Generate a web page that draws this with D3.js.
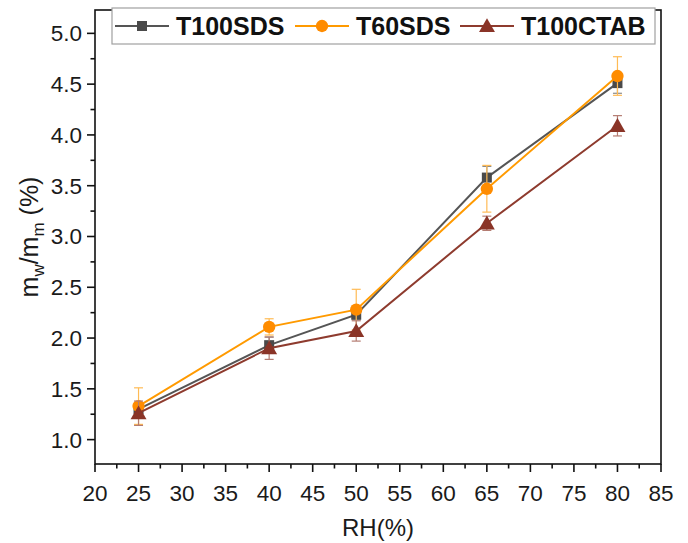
<!DOCTYPE html>
<html>
<head>
<meta charset="utf-8">
<script src="https://cdn.jsdelivr.net/npm/d3@7"></script>
<style>
  html, body { margin: 0; padding: 0; background: #fff; }
  svg { display: block; font-family: "Liberation Sans", Arial, sans-serif; }
</style>
</head>
<body>
<svg id="chart" width="688" height="543"></svg>
<script>
// Relative humidity levels (%)
const rh = [25, 40, 50, 65, 80];

// Moisture uptake m_w/m_m (%) and standard deviations per sample
const t100sds = [1.30, 1.93, 2.23, 3.58, 4.51];
const t100sdsErr = [0.05, 0.08, 0.05, 0.11, 0.10];
const t60sds = [1.33, 2.11, 2.28, 3.47, 4.58];
const t60sdsErr = [0.18, 0.08, 0.20, 0.23, 0.19];
const t100ctab = [1.26, 1.90, 2.07, 3.13, 4.09];
const t100ctabErr = [0.12, 0.11, 0.10, 0.07, 0.10];

const seriesNames = ["T100SDS", "T60SDS", "T100CTAB"];
const xTicks = [20, 25, 30, 35, 40, 45, 50, 55, 60, 65, 70, 75, 80, 85];
const yTicks = [1.0, 1.5, 2.0, 2.5, 3.0, 3.5, 4.0, 4.5, 5.0];

const series = [
  { name: seriesNames[0], values: t100sds, err: t100sdsErr, color: "#555555", marker: "#4a4a4a", errColor: "#8c8c8c", shape: d3.symbolSquare, size: 100 },
  { name: seriesNames[1], values: t60sds, err: t60sdsErr, color: "#ff9a00", marker: "#ff8c00", errColor: "#ffbb55", shape: d3.symbolCircle, size: 120 },
  { name: seriesNames[2], values: t100ctab, err: t100ctabErr, color: "#8e3b2e", marker: "#8a3427", errColor: "#b47c72", shape: d3.symbolTriangle, size: 110 }
];

const svg = d3.select("#chart");
const plot = { left: 95, right: 661, top: 10, bottom: 464 };

const x = d3.scaleLinear().domain([20, 85]).range([plot.left, plot.right]);
const y = d3.scaleLinear().domain([0.76, 5.23]).range([plot.bottom, plot.top]);

// Frame
svg.append("rect")
  .attr("x", plot.left).attr("y", plot.top)
  .attr("width", plot.right - plot.left).attr("height", plot.bottom - plot.top)
  .attr("fill", "none").attr("stroke", "#111").attr("stroke-width", 1.6);

// X axis: major and minor ticks pointing outward
const xAxis = svg.append("g").attr("transform", `translate(0,${plot.bottom})`);
xAxis.selectAll("line.major").data(xTicks).join("line")
  .attr("x1", d => x(d)).attr("x2", d => x(d)).attr("y1", 0).attr("y2", 8)
  .attr("stroke", "#111").attr("stroke-width", 1.6);
xAxis.selectAll("line.minor").data(xTicks.slice(0, -1).map(d => d + 2.5)).join("line")
  .attr("x1", d => x(d)).attr("x2", d => x(d)).attr("y1", 0).attr("y2", 4.5)
  .attr("stroke", "#111").attr("stroke-width", 1.6);
xAxis.selectAll("text").data(xTicks).join("text")
  .attr("x", d => x(d)).attr("y", 37)
  .attr("text-anchor", "middle").attr("font-size", 22.5).attr("fill", "#1a1a1a")
  .text(d => d);

// Y axis
const yAxis = svg.append("g").attr("transform", `translate(${plot.left},0)`);
yAxis.selectAll("line.major").data(yTicks).join("line")
  .attr("x1", 0).attr("x2", -8).attr("y1", d => y(d)).attr("y2", d => y(d))
  .attr("stroke", "#111").attr("stroke-width", 1.6);
yAxis.selectAll("line.minor").data(yTicks.map(d => d - 0.25).concat([5.25]).filter(d => d > 0.76 && d < 5.23)).join("line")
  .attr("x1", 0).attr("x2", -4.5).attr("y1", d => y(d)).attr("y2", d => y(d))
  .attr("stroke", "#111").attr("stroke-width", 1.6);
yAxis.selectAll("text").data(yTicks).join("text")
  .attr("x", -13).attr("y", d => y(d) + 8)
  .attr("text-anchor", "end").attr("font-size", 22.5).attr("fill", "#1a1a1a")
  .text(d => d.toFixed(1));

// Axis titles
svg.append("text")
  .attr("x", (plot.left + plot.right) / 2).attr("y", 536)
  .attr("text-anchor", "middle").attr("font-size", 24).attr("fill", "#1a1a1a")
  .text("RH(%)");

const yTitle = svg.append("text")
  .attr("transform", `translate(38,${(plot.top + plot.bottom) / 2}) rotate(-90)`)
  .attr("text-anchor", "middle").attr("font-size", 25).attr("fill", "#1a1a1a");
yTitle.append("tspan").text("m");
yTitle.append("tspan").attr("font-size", 17).attr("dy", 6).text("w");
yTitle.append("tspan").attr("dy", -6).text("/m");
yTitle.append("tspan").attr("font-size", 17).attr("dy", 6).text("m");
yTitle.append("tspan").attr("dy", -6).text(" (%)");

// Series: error bars, lines, markers
const line = d3.line().x((d, i) => x(rh[i])).y(d => y(d));
series.forEach(s => {
  const g = svg.append("g");
  const eb = g.selectAll("g.eb").data(s.values.map((v, i) => ({ x: rh[i], v, e: s.err[i] }))).join("g");
  eb.append("line")
    .attr("x1", d => x(d.x)).attr("x2", d => x(d.x))
    .attr("y1", d => y(d.v - d.e)).attr("y2", d => y(d.v + d.e))
    .attr("stroke", s.errColor).attr("stroke-width", 1.2);
  [-1, 1].forEach(sgn => {
    eb.append("line")
      .attr("x1", d => x(d.x) - 4.5).attr("x2", d => x(d.x) + 4.5)
      .attr("y1", d => y(d.v + sgn * d.e)).attr("y2", d => y(d.v + sgn * d.e))
      .attr("stroke", s.errColor).attr("stroke-width", 1.2);
  });
  g.append("path").datum(s.values)
    .attr("d", line).attr("fill", "none")
    .attr("stroke", s.color).attr("stroke-width", 2);
  g.selectAll("path.m").data(s.values).join("path")
    .attr("transform", (d, i) => `translate(${x(rh[i])},${y(d) + (s.shape === d3.symbolTriangle ? 1.5 : 0)})`)
    .attr("d", d3.symbol().type(s.shape).size(s.size))
    .attr("fill", s.marker);
});

// Legend box overlapping the top frame edge
const legend = svg.append("g");
legend.append("rect")
  .attr("x", 112).attr("y", 8).attr("width", 543).attr("height", 36)
  .attr("fill", "#fff").attr("stroke", "#a0a0a0").attr("stroke-width", 1.2);
const legendX = [115, 295, 460];
series.forEach((s, i) => {
  const lx = legendX[i];
  legend.append("line")
    .attr("x1", lx).attr("x2", lx + 54).attr("y1", 26).attr("y2", 26)
    .attr("stroke", s.color).attr("stroke-width", 2);
  legend.append("path")
    .attr("transform", `translate(${lx + 27},${26 + (s.shape === d3.symbolTriangle ? 1.5 : 0)})`)
    .attr("d", d3.symbol().type(s.shape).size(s.size))
    .attr("fill", s.marker);
  legend.append("text")
    .attr("x", lx + 61).attr("y", 35)
    .attr("font-size", 25).attr("font-weight", "bold").attr("fill", "#111")
    .text(s.name);
});
</script>
</body>
</html>
